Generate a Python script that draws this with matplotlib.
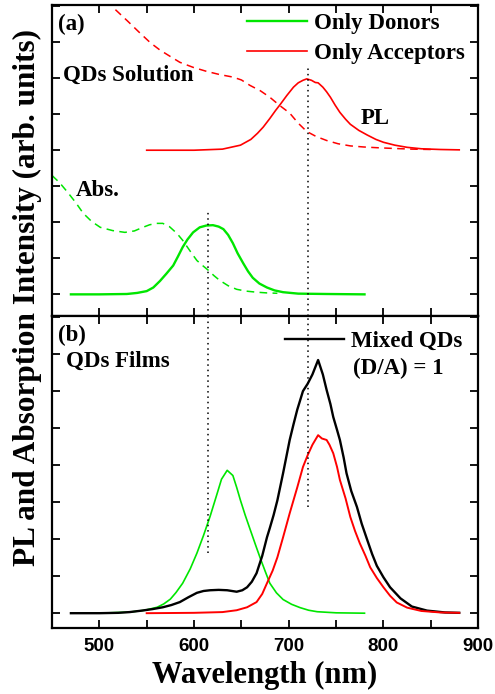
import matplotlib
matplotlib.use("Agg")
import matplotlib.pyplot as plt
from matplotlib.ticker import MultipleLocator, NullFormatter

# ---------------- data ----------------
# Panel (a): QDs solution
donor_abs_x = [450, 458, 466, 475, 483, 492, 501, 514, 527, 537, 546, 553, 560, 567, 574, 582, 588, 593, 598, 603, 609, 615, 621, 627, 636, 645, 655, 666, 677, 688]
donor_abs_y = [3.30, 3.10, 2.85, 2.55, 2.25, 2.02, 1.86, 1.77, 1.72, 1.76, 1.86, 1.93, 1.97, 1.97, 1.88, 1.69, 1.50, 1.31, 1.12, 0.94, 0.80, 0.67, 0.52, 0.39, 0.24, 0.14, 0.09, 0.06, 0.04, 0.03]

donor_pl_a_x = [470, 500, 529, 540, 550, 557, 564, 571, 578, 583, 588, 593, 599, 606, 613, 620, 626, 631, 636, 641, 646, 652, 657, 662, 669, 677, 685, 694, 710, 740, 780]
donor_pl_a_y = [0.00, 0.00, 0.01, 0.04, 0.09, 0.19, 0.37, 0.58, 0.80, 1.05, 1.31, 1.52, 1.72, 1.86, 1.91, 1.92, 1.88, 1.81, 1.65, 1.42, 1.14, 0.86, 0.64, 0.46, 0.30, 0.19, 0.11, 0.06, 0.02, 0.01, 0.00]

acc_abs_x = [517, 530, 543, 554, 564, 575, 585, 599, 613, 627, 641, 650, 659, 670, 680, 690, 701, 710, 719, 729, 740, 752, 765, 779, 793, 810, 830, 850]
acc_abs_y = [7.90, 7.58, 7.25, 6.98, 6.78, 6.60, 6.44, 6.30, 6.19, 6.10, 6.03, 5.95, 5.80, 5.65, 5.47, 5.25, 5.03, 4.75, 4.52, 4.38, 4.27, 4.18, 4.12, 4.09, 4.07, 4.05, 4.03, 4.02]

acc_pl_a_x = [550, 600, 630, 649, 660, 667, 673, 680, 686, 691, 698, 705, 710, 715, 719, 724, 728, 731, 736, 740, 744, 749, 754, 760, 765, 774, 783, 792, 800, 812, 825, 840, 860, 880]
acc_pl_a_y = [4.00, 4.00, 4.03, 4.14, 4.30, 4.47, 4.64, 4.88, 5.10, 5.27, 5.52, 5.75, 5.87, 5.94, 5.98, 5.94, 5.88, 5.87, 5.75, 5.62, 5.47, 5.25, 5.05, 4.86, 4.72, 4.55, 4.42, 4.30, 4.22, 4.14, 4.08, 4.04, 4.02, 4.01]

# Panel (b): QDs films
donor_pl_b_x = [470, 510, 532, 548, 561, 568, 575, 581, 588, 596, 603, 610, 617, 624, 629, 635, 641, 645, 649, 654, 659, 665, 670, 675, 680, 687, 694, 703, 712, 721, 730, 750, 780]
donor_pl_b_y = [0.00, 0.01, 0.03, 0.08, 0.16, 0.25, 0.38, 0.56, 0.81, 1.20, 1.62, 2.10, 2.62, 3.20, 3.62, 3.86, 3.72, 3.40, 3.05, 2.65, 2.28, 1.84, 1.48, 1.14, 0.81, 0.55, 0.37, 0.24, 0.15, 0.08, 0.04, 0.01, 0.00]

acc_pl_b_x = [550, 600, 630, 645, 656, 666, 672, 677, 683, 688, 694, 701, 705, 709, 715, 720, 725, 731, 735, 740, 743, 747, 751, 754, 760, 765, 770, 775, 781, 786, 793, 800, 807, 814, 825, 840, 860, 880]
acc_pl_b_y = [0.00, 0.01, 0.03, 0.08, 0.16, 0.30, 0.52, 0.81, 1.15, 1.51, 2.05, 2.70, 3.05, 3.40, 3.95, 4.27, 4.55, 4.81, 4.72, 4.68, 4.55, 4.32, 3.95, 3.60, 3.10, 2.60, 2.22, 1.89, 1.55, 1.24, 0.95, 0.70, 0.47, 0.29, 0.15, 0.06, 0.02, 0.01]

mixed_x = [470, 500, 520, 532, 545, 556, 567, 576, 585, 594, 603, 610, 617, 626, 635, 645, 651, 656, 661, 666, 672, 677, 680, 684, 688, 694, 701, 705, 709, 715, 720, 725, 731, 736, 740, 744, 747, 751, 754, 758, 761, 766, 772, 777, 783, 788, 793, 800, 807, 818, 830, 846, 865, 880]
mixed_y = [0.00, 0.00, 0.01, 0.03, 0.07, 0.11, 0.16, 0.22, 0.30, 0.43, 0.55, 0.60, 0.62, 0.63, 0.62, 0.58, 0.62, 0.70, 0.85, 1.08, 1.55, 2.05, 2.30, 2.65, 3.05, 3.78, 4.68, 5.10, 5.50, 6.00, 6.20, 6.45, 6.84, 6.45, 6.03, 5.65, 5.30, 4.95, 4.68, 4.20, 3.78, 3.30, 2.87, 2.42, 1.97, 1.60, 1.28, 0.97, 0.70, 0.40, 0.18, 0.07, 0.02, 0.01]

x_ticks = [500, 600, 700, 800, 900]
donor_peak = 615
acceptor_peak = 720

GREEN = "#00e600"
RED = "#ff0000"
SERIF = "Liberation Serif"
SANS = "Liberation Sans"

fig = plt.figure(figsize=(4.95, 6.94), dpi=100)
axa = fig.add_axes([0.105, 0.5447, 0.861, 0.4481])
axb = fig.add_axes([0.105, 0.0951, 0.861, 0.4496])

# panel (a)
axa.plot(donor_abs_x, donor_abs_y, color=GREEN, lw=1.1, ls=(0, (5, 3.5)))
axa.plot(acc_abs_x, acc_abs_y, color=RED, lw=1.1, ls=(0, (5, 3.5)))
axa.plot(donor_pl_a_x, donor_pl_a_y, color=GREEN, lw=1.7, label="Only Donors")
axa.plot(acc_pl_a_x, acc_pl_a_y, color=RED, lw=1.2, label="Only Acceptors")
axa.axvline(donor_peak, ymin=0, ymax=0.34, color="black", ls=(0, (1, 2.5)), lw=1.1)
axa.axvline(acceptor_peak, ymin=0, ymax=0.807, color="black", ls=(0, (1, 2.5)), lw=1.1)
axa.set_ylim(-0.6, 8.03)

# panel (b)
axb.plot(donor_pl_b_x, donor_pl_b_y, color=GREEN, lw=1.2)
axb.plot(mixed_x, mixed_y, color="black", lw=1.7, label="Mixed QDs")
axb.plot(acc_pl_b_x, acc_pl_b_y, color=RED, lw=1.4)
axb.axvline(donor_peak, ymin=0.24, ymax=1, color="black", ls=(0, (1, 2.5)), lw=1.1)
axb.axvline(acceptor_peak, ymin=0.388, ymax=1, color="black", ls=(0, (1, 2.5)), lw=1.1)
axb.set_ylim(-0.4, 8.03)

for ax in (axa, axb):
    ax.set_xlim(450, 900)
    ax.xaxis.set_major_locator(MultipleLocator(100))
    ax.xaxis.set_minor_locator(MultipleLocator(50))
    ax.yaxis.set_major_locator(MultipleLocator(1))
    ax.yaxis.set_major_formatter(NullFormatter())
    ax.tick_params(axis="both", which="both", direction="in", top=True, right=True,
                   width=1.3, length=6)
    for s in ax.spines.values():
        s.set_linewidth(1.6)

axa.xaxis.set_major_formatter(NullFormatter())
axa.tick_params(axis="x", which="both", labelbottom=False)
axb.set_xticks(x_ticks)
axb.set_xticklabels([str(v) for v in x_ticks], fontfamily=SANS, fontweight="bold", fontsize=13.5)
axb.tick_params(axis="x", pad=7)

tfont = dict(family=SERIF, weight="bold", size=16.5)
axa.text(0.015, 0.97, "(a)", transform=axa.transAxes, va="top", ha="left", **tfont)
axa.text(0.025, 0.775, "QDs Solution", transform=axa.transAxes, va="center", ha="left", **tfont)
axa.text(0.725, 0.635, "PL", transform=axa.transAxes, va="center", ha="left", **tfont)
axa.text(0.055, 0.405, "Abs.", transform=axa.transAxes, va="center", ha="left", **tfont)
axb.text(0.015, 0.97, "(b)", transform=axb.transAxes, va="top", ha="left", **tfont)
axb.text(0.032, 0.855, "QDs Films", transform=axb.transAxes, va="center", ha="left", **tfont)
axb.text(0.707, 0.833, "(D/A) = 1", transform=axb.transAxes, va="center", ha="left", **tfont)

axa.legend(loc="upper right", bbox_to_anchor=(1.0, 1.02), frameon=False,
           prop=dict(family=SERIF, weight="bold", size=16.5), handlelength=2.6,
           handletextpad=0.3, labelspacing=0.4, borderaxespad=0.2)
axb.legend(loc="upper right", bbox_to_anchor=(0.995, 0.995), frameon=False,
           prop=dict(family=SERIF, weight="bold", size=16.5), handlelength=2.6,
           handletextpad=0.3, borderaxespad=0.2)

fig.text(0.055, 0.571, "PL and Absorption Intensity (arb. units)", rotation=90,
         ha="center", va="center", family=SERIF, weight="bold", size=22.5)
fig.text(0.535, 0.027, "Wavelength (nm)", ha="center", va="center",
         family=SERIF, weight="bold", size=22)

fig.savefig("out.png", dpi=100)
